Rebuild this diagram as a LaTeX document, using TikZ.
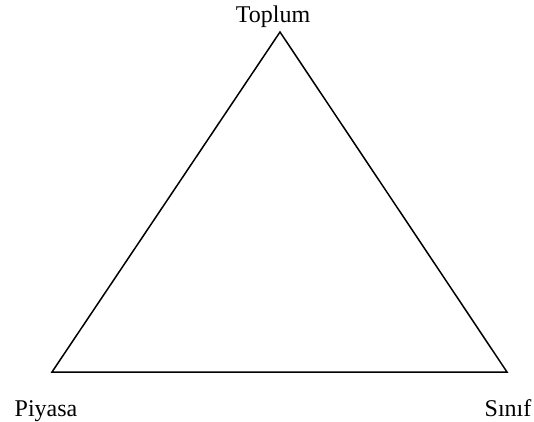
\documentclass[tikz,border=0pt]{standalone}
\usepackage{fontspec}
\setmainfont{Liberation Serif}
\begin{document}
\begin{tikzpicture}[x=1pt,y=1pt,
  lbl/.style={anchor=base,inner sep=0pt,font=\fontsize{24}{28}\selectfont},
  edge/.style={line width=1.5pt,line join=miter}]
\useasboundingbox (0,0) rectangle (534,421);
\coordinate (top) at (280,389);
\coordinate (left) at (52,49);
\coordinate (right) at (507,49);
\draw[edge] (top) -- (left) -- (right) -- cycle;
\node[lbl] (t) at (273,398) {Toplum};
\node[lbl] (p) at (46,5) {Piyasa};
\node[lbl] (s) at (508,5) {Sınıf};
\end{tikzpicture}
\end{document}
